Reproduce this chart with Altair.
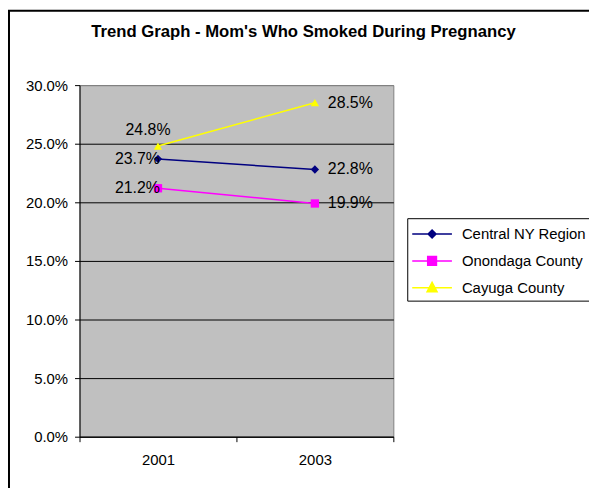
import altair as alt
import pandas as pd

# ---- data ----
years = [2001, 2003]
series_names = ["Central NY Region", "Onondaga County", "Cayuga County"]
central = [23.7, 22.8]
onondaga = [21.2, 19.9]
cayuga = [24.8, 28.5]
colors = ["#000080", "#FF00FF", "#FFFF00"]
plot_shapes = ["diamond", "square", "triangle-up"]
legend_shapes = [
    "M-1.95,0L1.95,0M0,-0.39L0.39,0L0,0.39L-0.39,0Z",
    "M-1.95,0L1.95,0M-0.43,-0.43L0.43,-0.43L0.43,0.43L-0.43,0.43Z",
    "M-1.95,0L1.95,0M0,-0.52L0.49,0.39L-0.49,0.39Z",
]
y_ticks = [0, 0.05, 0.10, 0.15, 0.20, 0.25, 0.30]
x_ticks = [2000, 2001, 2002, 2003, 2004]
title_text = "Trend Graph - Mom's Who Smoked During Pregnancy"

rows = []
for name, vals in zip(series_names, [central, onondaga, cayuga]):
    for yr, v in zip(years, vals):
        rows.append({"year": yr, "series": name, "value": v / 100.0})
df = pd.DataFrame(rows)

FONT = "Liberation Sans"
W, H = 316, 354

x_enc = alt.X(
    "year:Q",
    scale=alt.Scale(domain=[2000, 2004], nice=False, zero=False),
    axis=alt.Axis(
        values=x_ticks,
        format="d",
        labelExpr="datum.value % 2 == 1 ? datum.label : ''",
        tickOpacity=alt.expr("datum.value % 2 == 0 ? 1 : 0"),
        tickSize=5,
        tickColor="black",
        domainColor="black",
        labelPadding=11,
        labelFontSize=15,
        labelFont=FONT,
        labelColor="black",
        grid=False,
        title=None,
    ),
)
y_enc = alt.Y(
    "value:Q",
    scale=alt.Scale(domain=[0, 0.30], nice=False),
    axis=alt.Axis(
        values=y_ticks,
        format=".1%",
        grid=True,
        gridColor=alt.expr("datum.value >= 0.3 ? '#808080' : '#000000'"),
        gridWidth=1,
        tickSize=5,
        tickColor="black",
        domainColor="black",
        labelPadding=7,
        labelFontSize=15,
        labelFont=FONT,
        labelColor="black",
        title=None,
    ),
)
color_scale = alt.Scale(domain=series_names, range=colors)

base = alt.Chart(df)

border = alt.Chart(pd.DataFrame({"a": [0]})).mark_rect(
    fillOpacity=0, stroke="black", strokeWidth=2
).encode(
    x=alt.value(-71), x2=alt.value(700), y=alt.value(-75), y2=alt.value(700)
)

lines = base.mark_line(strokeWidth=1.5).encode(
    x=x_enc, y=y_enc,
    color=alt.Color("series:N", scale=color_scale, legend=None),
    detail="series:N",
)

points = base.mark_point(filled=True, opacity=1, size=70).encode(
    x="year:Q", y="value:Q",
    color=alt.Color("series:N", scale=color_scale, legend=None),
    shape=alt.Shape("series:N", scale=alt.Scale(domain=series_names, range=plot_shapes), legend=None),
)

legend_layer = base.transform_filter("false").mark_point(filled=True, opacity=1).encode(
    x="year:Q", y="value:Q",
    fill=alt.Fill("series:N", scale=alt.Scale(domain=series_names, range=colors), title=None),
    stroke=alt.Stroke("series:N", scale=alt.Scale(domain=series_names, range=colors), title=None),
    shape=alt.Shape("series:N", scale=alt.Scale(domain=series_names, range=legend_shapes), title=None),
)

txt = dict(font=FONT, fontSize=16, color="black", baseline="middle")
labels_right = base.transform_filter("datum.year == 2003").mark_text(align="left", dx=13, **txt).encode(
    x="year:Q", y="value:Q", text=alt.Text("value:Q", format=".1%")
)
labels_left = base.transform_filter(
    "datum.year == 2001 && datum.series != 'Cayuga County'"
).mark_text(align="right", dx=2, **txt).encode(
    x="year:Q", y="value:Q", text=alt.Text("value:Q", format=".1%")
)
labels_above = base.transform_filter(
    "datum.year == 2001 && datum.series == 'Cayuga County'"
).mark_text(align="center", dx=-10, dy=-16, **txt).encode(
    x="year:Q", y="value:Q", text=alt.Text("value:Q", format=".1%")
)

title = alt.Chart(pd.DataFrame({"t": [title_text]})).mark_text(
    font=FONT, fontSize=16.8, fontWeight="bold", color="black", align="center", baseline="middle"
).encode(x=alt.value(225.5), y=alt.value(-53), text="t:N")

chart = alt.layer(
    border, lines, points, legend_layer, labels_right, labels_left, labels_above, title
).resolve_scale(
    shape="independent", fill="independent", stroke="independent"
).properties(
    width=W, height=H,
    background="white",
    autosize=alt.AutoSizeParams(type="none"),
    padding={"left": 72, "top": 76, "right": 197, "bottom": 50},
).configure_view(
    fill="#C0C0C0", stroke="#808080"
).configure_legend(
    orient="none", legendX=330, legendY=134,
    strokeColor="black", fillColor="white", padding=5,
    symbolSize=420, symbolStrokeWidth=1.5, symbolOffset=9,
    labelFont=FONT, labelFontSize=15, labelColor="black", labelOffset=19,
    rowPadding=8,
)

chart.save("out.html", embed_options={"renderer": "svg", "actions": False})
